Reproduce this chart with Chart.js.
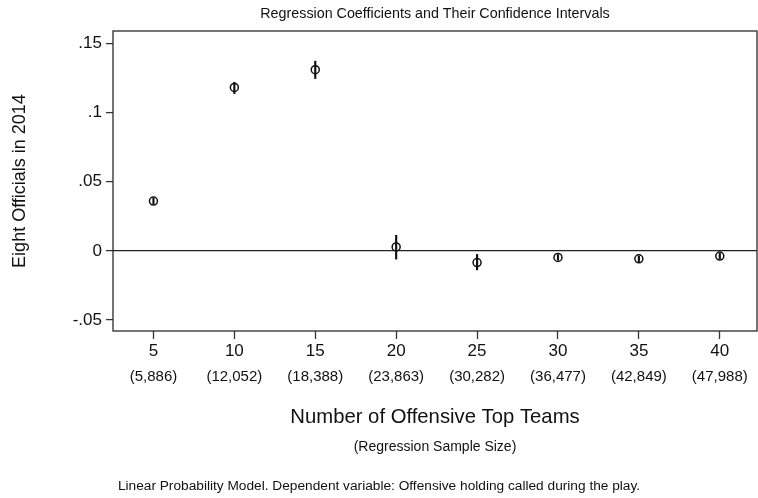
<!DOCTYPE html>
<html>
<head>
<meta charset="utf-8">
<script src="https://cdn.jsdelivr.net/npm/chart.js@4.4.0/dist/chart.umd.min.js"></script>
<style>
  html, body { margin: 0; padding: 0; background: #fff; }
  canvas { display: block; }
</style>
</head>
<body>
<canvas id="chart" width="758" height="498"></canvas>
<script>
// Number of offensive top teams and the regression sample size for each run
const topTeams = [5, 10, 15, 20, 25, 30, 35, 40];
const sampleSizes = ['(5,886)', '(12,052)', '(18,388)', '(23,863)', '(30,282)', '(36,477)', '(42,849)', '(47,988)'];

// Point estimates and confidence bounds for "Eight Officials in 2014"
const coefficients = [0.0360, 0.1182, 0.1310, 0.0028, -0.0085, -0.0048, -0.0058, -0.0038];
const ciLower      = [0.0340, 0.1137, 0.1246, -0.0060, -0.0138, -0.0068, -0.0078, -0.0058];
const ciUpper      = [0.0380, 0.1219, 0.1372, 0.0112, -0.0026, -0.0028, -0.0038, -0.0018];

// Axis ticks
const yTickValues = [-0.05, 0, 0.05, 0.1, 0.15];
const yTickLabels = ['-.05', '0', '.05', '.1', '.15'];

const FONT = '"Liberation Sans", Arial, Helvetica, sans-serif';
const INK = '#111';

const whiteBackground = {
  id: 'whiteBackground',
  beforeDraw(chart) {
    const c = chart.ctx;
    c.save();
    c.fillStyle = '#fff';
    c.fillRect(0, 0, chart.width, chart.height);
    c.restore();
  }
};

// Box around the plot region
const plotFrame = {
  id: 'plotFrame',
  beforeDatasetsDraw(chart) {
    const a = chart.chartArea;
    const c = chart.ctx;
    c.save();
    c.strokeStyle = '#2a2a2a';
    c.lineWidth = 1.3;
    c.strokeRect(a.left, a.top, a.right - a.left, a.bottom - a.top);
    c.restore();
  }
};

// Titles and notes
const chartTexts = {
  id: 'chartTexts',
  afterDraw(chart) {
    const a = chart.chartArea;
    const c = chart.ctx;
    const cx = (a.left + a.right) / 2;
    c.save();
    c.fillStyle = INK;
    c.textAlign = 'center';
    c.textBaseline = 'middle';

    c.font = '14.3px ' + FONT;
    c.fillText('Regression Coefficients and Their Confidence Intervals', cx, 14);

    c.font = '20.3px ' + FONT;
    c.fillText('Number of Offensive Top Teams', cx, 417);

    c.font = '14px ' + FONT;
    c.fillText('(Regression Sample Size)', cx, 447);

    c.font = '13.7px ' + FONT;
    c.fillText('Linear Probability Model. Dependent variable: Offensive holding called during the play.', chart.width / 2, 486);

    c.translate(20, (a.top + a.bottom) / 2);
    c.rotate(-Math.PI / 2);
    c.font = '18px ' + FONT;
    c.fillText('Eight Officials in 2014', 0, 0);
    c.restore();
  }
};

const xMin = 2.5, xMax = 42.3;

new Chart(document.getElementById('chart'), {
  type: 'scatter',
  data: {
    datasets: [
      {
        type: 'bar',
        label: 'Confidence interval',
        data: topTeams.map((x, i) => ({ x: x, y: [ciLower[i], ciUpper[i]] })),
        backgroundColor: INK,
        borderWidth: 0,
        barThickness: 1.5,
        xAxisID: 'x',
        yAxisID: 'y',
        order: 2
      },
      {
        type: 'scatter',
        label: 'Coefficient',
        data: topTeams.map((x, i) => ({ x: x, y: coefficients[i] })),
        pointStyle: 'circle',
        pointRadius: 4,
        pointBorderWidth: 1.5,
        borderColor: INK,
        backgroundColor: 'rgba(0,0,0,0)',
        xAxisID: 'x',
        yAxisID: 'y',
        order: 1
      }
    ]
  },
  options: {
    responsive: false,
    animation: false,
    events: [],
    layout: { autoPadding: false, padding: { top: 31, right: 1, left: 0, bottom: 0 } },
    plugins: {
      legend: { display: false },
      tooltip: { enabled: false },
      title: { display: false }
    },
    scales: {
      x: {
        type: 'linear',
        position: 'bottom',
        min: xMin,
        max: xMax,
        offset: false,
        afterBuildTicks: s => { s.ticks = topTeams.map(v => ({ value: v })); },
        afterFit: s => { s.height = 32; },
        ticks: {
          callback: (v, i) => String(topTeams[i]),
          font: { family: FONT, size: 17 },
          color: INK,
          padding: 2,
          maxRotation: 0,
          autoSkip: false
        },
        grid: {
          drawOnChartArea: false,
          drawTicks: true,
          tickLength: 8,
          tickColor: '#333',
          tickWidth: 1.3,
          offset: false
        },
        border: { display: false }
      },
      x2: {
        type: 'linear',
        position: 'bottom',
        min: xMin,
        max: xMax,
        offset: false,
        afterBuildTicks: s => { s.ticks = topTeams.map(v => ({ value: v })); },
        afterFit: s => { s.height = 135; },
        ticks: {
          callback: (v, i) => sampleSizes[i],
          font: { family: FONT, size: 15 },
          color: INK,
          padding: 5,
          maxRotation: 0,
          autoSkip: false
        },
        grid: { display: false, drawTicks: false, offset: false },
        border: { display: false }
      },
      y: {
        type: 'linear',
        position: 'left',
        min: -0.058,
        max: 0.159,
        afterBuildTicks: s => { s.ticks = yTickValues.map(v => ({ value: v })); },
        afterFit: s => { s.width = 113; },
        ticks: {
          callback: (v, i) => yTickLabels[i],
          font: { family: FONT, size: 17 },
          color: INK,
          padding: 4
        },
        grid: {
          drawOnChartArea: true,
          drawTicks: true,
          tickLength: 7,
          tickColor: '#333',
          tickWidth: 1.3,
          lineWidth: 1.2,
          color: c => (c.tick && c.tick.value === 0) ? '#222' : 'rgba(0,0,0,0)'
        },
        border: { display: false }
      }
    }
  },
  plugins: [whiteBackground, plotFrame, chartTexts]
});
</script>
</body>
</html>
